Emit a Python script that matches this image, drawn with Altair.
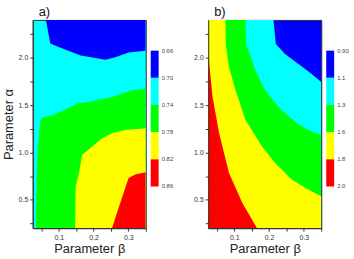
import altair as alt
import pandas as pd

FONT = "Liberation Sans"
BETA_DOMAIN = [0.025, 0.35]
ALPHA_DOMAIN = [0.2, 2.4]

# contour fill colours, lowest level band first (top of the colour bar)
PALETTE = ["#0000ff", "#00ffff", "#00ff00", "#ffff00", "#ff0000"]

# ---- panel a): level boundaries (beta, alpha) ----
a_blue_beta = [0.0629, 0.0755, 0.1011, 0.1627, 0.234, 0.2625, 0.3007, 0.35]
a_blue_alpha = [2.40, 2.152, 2.110, 2.023, 1.978, 2.005, 2.057, 2.075]

a_green_beta = [0.0344, 0.0358, 0.0393, 0.047, 0.0535, 0.082, 0.1154, 0.1533, 0.1867, 0.253, 0.31, 0.35]
a_green_alpha = [0.20, 0.640, 1.028, 1.342, 1.368, 1.394, 1.447, 1.517, 1.534, 1.586, 1.656, 1.674]

a_yellow_beta = [0.1467, 0.1484, 0.1581, 0.1676, 0.1961, 0.2246, 0.2531, 0.291, 0.35]
a_yellow_alpha = [0.20, 0.643, 0.784, 0.975, 1.062, 1.150, 1.203, 1.237, 1.255]

a_red_beta = [0.253, 0.2673, 0.2864, 0.3007, 0.3195, 0.35]
a_red_alpha = [0.20, 0.364, 0.574, 0.731, 0.766, 0.790]

a_levels = ["0.66", "0.70", "0.74", "0.78", "0.82", "0.86"]

# ---- panel b): level boundaries (beta, alpha) ----
b_cyan_beta = [0.025, 0.2125, 0.2193, 0.2457, 0.2835, 0.3216, 0.35]
b_cyan_alpha = [2.40, 2.40, 2.145, 2.041, 1.936, 1.831, 1.743]

b_green_beta = [0.025, 0.1321, 0.1341, 0.1605, 0.189, 0.2267, 0.2742, 0.312, 0.35]
b_green_alpha = [2.40, 2.40, 2.145, 1.866, 1.656, 1.481, 1.324, 1.237, 1.185]

b_yellow_beta = [0.025, 0.0745, 0.0753, 0.0847, 0.1037, 0.1321, 0.1796, 0.2173, 0.2648, 0.312, 0.35]
b_yellow_alpha = [2.40, 2.40, 2.145, 1.900, 1.656, 1.342, 1.062, 0.888, 0.713, 0.609, 0.538]

b_red_beta = [0.025, 0.0375, 0.0563, 0.0847, 0.1227, 0.1653]
b_red_alpha = [2.041, 1.586, 1.203, 0.784, 0.469, 0.20]

b_levels = ["0.90", "1.1", "1.3", "1.6", "1.8", "2.0"]

PLOT_W, PLOT_H = 114, 210

x_scale = alt.Scale(domain=BETA_DOMAIN, nice=False, zero=False)
y_scale = alt.Scale(domain=ALPHA_DOMAIN, nice=False, zero=False)

x_axis = alt.Axis(
    values=[0.05, 0.1, 0.15, 0.2, 0.25, 0.3, 0.35],
    labelExpr="abs(round(datum.value*10) - datum.value*10) < 0.001 ? format(datum.value, '.1f') : ''",
    title="Parameter β", titleFontSize=13, titleFontWeight="normal", titleFont=FONT,
    titleColor="#222", titlePadding=3,
    labelFontSize=7, labelFont=FONT, labelColor="#333", labelPadding=2,
    tickSize=3, tickColor="#333", domainColor="#333", zindex=1, grid=False,
)


def y_axis(title):
    extra = dict(title=title) if title else dict(title=None)
    return alt.Axis(
        values=[0.25, 0.5, 0.75, 1.0, 1.25, 1.5, 1.75, 2.0, 2.25],
        labelExpr="abs(round(datum.value*2) - datum.value*2) < 0.001 ? format(datum.value, '.1f') : ''",
        titleFontSize=13, titleFontWeight="normal", titleFont=FONT, titleColor="#222",
        titlePadding=3,
        labelFontSize=7, labelFont=FONT, labelColor="#333", labelPadding=2,
        tickSize=3, tickColor="#333", domainColor="#333", zindex=1, grid=False,
        **extra,
    )


def region(beta, alpha, color, toward_top=False, axis_y=None):
    edge = ALPHA_DOMAIN[1] if toward_top else ALPHA_DOMAIN[0]
    df = pd.DataFrame({"beta": beta, "alpha": alpha, "edge": [edge] * len(beta)})
    return alt.Chart(df).mark_area(color=color, clip=True).encode(
        x=alt.X("beta:Q", scale=x_scale, axis=x_axis),
        y=alt.Y("alpha:Q", scale=y_scale, axis=axis_y),
        y2="edge:Q",
    )


def panel_label(text):
    return alt.Chart(pd.DataFrame({"t": [text]})).mark_text(
        align="left", baseline="alphabetic", fontSize=13, font=FONT, color="#111"
    ).encode(x=alt.value(6), y=alt.value(-4), text="t:N")


def colorbar(levels, width):
    bands = pd.DataFrame({"pos": list(range(5)), "pos2": list(range(1, 6)),
                          "band": [f"{levels[k]}-{levels[k + 1]}" for k in range(5)]})
    ticks = pd.DataFrame({"pos": list(range(6)), "label": levels})
    cb_scale = alt.Scale(domain=[-1.131, 6.533], reverse=True, nice=False, zero=False)
    rect = alt.Chart(bands).mark_rect().encode(
        y=alt.Y("pos:Q", scale=cb_scale, axis=None),
        y2="pos2:Q",
        x=alt.value(0), x2=alt.value(8),
        color=alt.Color("band:N", scale=alt.Scale(domain=list(bands["band"]), range=PALETTE),
                        legend=None),
    )
    text = alt.Chart(ticks).mark_text(
        align="left", baseline="middle", fontSize=6, font=FONT, color="#444"
    ).encode(
        y=alt.Y("pos:Q", scale=cb_scale, axis=None),
        x=alt.value(11),
        text="label:N",
    )
    return alt.layer(rect, text).properties(
        width=width, height=PLOT_H, view=alt.ViewBackground(stroke=None)
    )


ya = y_axis("Parameter α")
yb = y_axis(None)

panel_a = alt.layer(
    region(a_green_beta, a_green_alpha, PALETTE[2], axis_y=ya),
    region(a_yellow_beta, a_yellow_alpha, PALETTE[3], axis_y=ya),
    region(a_red_beta, a_red_alpha, PALETTE[4], axis_y=ya),
    region(a_blue_beta, a_blue_alpha, PALETTE[0], toward_top=True, axis_y=ya),
    panel_label("a)"),
).properties(
    width=PLOT_W, height=PLOT_H,
    view=alt.ViewBackground(fill=PALETTE[1], stroke="#333", strokeWidth=1),
)

panel_b = alt.layer(
    region(b_cyan_beta, b_cyan_alpha, PALETTE[1], axis_y=yb),
    region(b_green_beta, b_green_alpha, PALETTE[2], axis_y=yb),
    region(b_yellow_beta, b_yellow_alpha, PALETTE[3], axis_y=yb),
    region(b_red_beta, b_red_alpha, PALETTE[4], axis_y=yb),
    panel_label("b)"),
).properties(
    width=PLOT_W, height=PLOT_H,
    view=alt.ViewBackground(fill=PALETTE[0], stroke="#333", strokeWidth=1),
)

chart = alt.hconcat(
    panel_a, colorbar(a_levels, 53), panel_b, colorbar(b_levels, 28),
    spacing=5, bounds="flush",
).properties(
    padding={"left": 1, "top": 4, "right": 0, "bottom": 0},
    background="white",
)

chart.save("out.html", embed_options={"renderer": "svg", "actions": False})
